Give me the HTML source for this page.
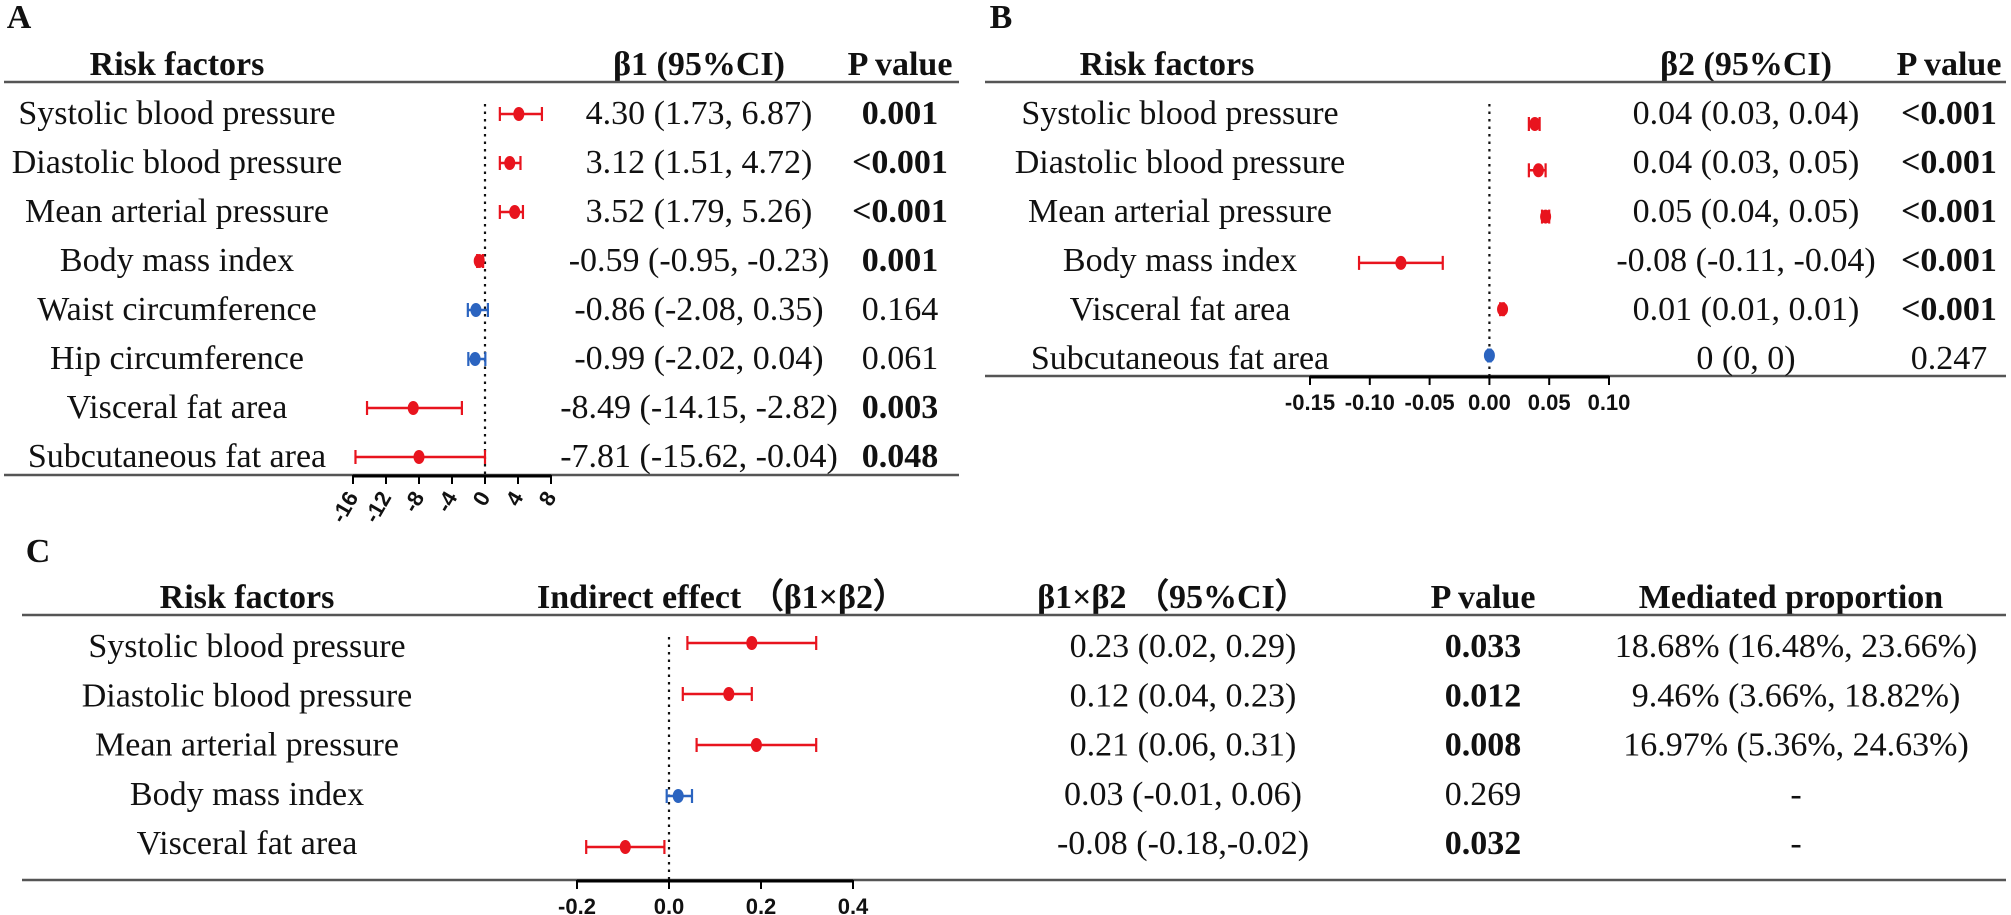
<!DOCTYPE html>
<html><head><meta charset="utf-8"><style>
html,body{margin:0;padding:0;background:#fff;}
svg{display:block;}
text{font-family:"Liberation Serif",serif;fill:#111;}
.h{font-weight:bold;font-size:34px;}
.r{font-size:34px;}
.b{font-weight:bold;}
.t{font-family:"Liberation Sans",sans-serif;font-weight:bold;font-size:22px;}
</style></head><body>
<svg id="chart" width="2011" height="915" viewBox="0 0 2011 915" xmlns="http://www.w3.org/2000/svg"></svg>
<script>
// Panel A data
const aLabels = ["Systolic blood pressure","Diastolic blood pressure","Mean arterial pressure","Body mass index","Waist circumference","Hip circumference","Visceral fat area","Subcutaneous fat area"];
const aEst = [4.1, 3.0, 3.6, -0.7, -1.1, -1.2, -8.7, -8.0];
const aLow = [1.8, 1.8, 1.8, -0.95, -2.08, -2.02, -14.3, -15.7];
const aHigh = [6.9, 4.3, 4.6, -0.23, 0.35, 0.04, -2.8, 0.0];
const aSig = [true, true, true, true, false, false, true, true];
const aCI = ["4.30 (1.73, 6.87)","3.12 (1.51, 4.72)","3.52 (1.79, 5.26)","-0.59 (-0.95, -0.23)","-0.86 (-2.08, 0.35)","-0.99 (-2.02, 0.04)","-8.49 (-14.15, -2.82)","-7.81 (-15.62, -0.04)"];
const aP = ["0.001","<0.001","<0.001","0.001","0.164","0.061","0.003","0.048"];
const aTicks = [-16,-12,-8,-4,0,4,8];
// Panel B data
const bLabels = ["Systolic blood pressure","Diastolic blood pressure","Mean arterial pressure","Body mass index","Visceral fat area","Subcutaneous fat area"];
const bEst = [0.038, 0.041, 0.047, -0.074, 0.011, 0.0];
const bLow = [0.033, 0.033, 0.044, -0.109, 0.009, -0.001];
const bHigh = [0.042, 0.047, 0.050, -0.039, 0.012, 0.001];
const bSig = [true, true, true, true, true, false];
const bCI = ["0.04 (0.03, 0.04)","0.04 (0.03, 0.05)","0.05 (0.04, 0.05)","-0.08 (-0.11, -0.04)","0.01 (0.01, 0.01)","0 (0, 0)"];
const bP = ["<0.001","<0.001","<0.001","<0.001","<0.001","0.247"];
const bTicks = [-0.15,-0.10,-0.05,0.00,0.05,0.10];
// Panel C data
const cLabels = ["Systolic blood pressure","Diastolic blood pressure","Mean arterial pressure","Body mass index","Visceral fat area"];
const cEst = [0.18, 0.13, 0.19, 0.02, -0.095];
const cLow = [0.04, 0.03, 0.06, -0.005, -0.18];
const cHigh = [0.32, 0.18, 0.32, 0.05, -0.01];
const cSig = [true, true, true, false, true];
const cCI = ["0.23 (0.02, 0.29)","0.12 (0.04, 0.23)","0.21 (0.06, 0.31)","0.03 (-0.01, 0.06)","-0.08 (-0.18,-0.02)"];
const cP = ["0.033","0.012","0.008","0.269","0.032"];
const cPBold = [true, true, true, false, true];
const cMed = ["18.68% (16.48%, 23.66%)","9.46% (3.66%, 18.82%)","16.97% (5.36%, 24.63%)","-","-"];
const cTicks = [-0.2,0.0,0.2,0.4];

const svg = document.getElementById('chart');
const NS = "http://www.w3.org/2000/svg";
const RED = "#e8141e", BLUE = "#2b64c0";
function mk(tag, attrs, txt){
  const e = document.createElementNS(NS, tag);
  for (const k in attrs) e.setAttribute(k, attrs[k]);
  if (txt !== undefined) e.textContent = txt;
  svg.appendChild(e);
  return e;
}
function txt(x, y, s, cls, anchor){
  return mk('text', {x:x, y:y, class:cls, 'text-anchor':anchor||'middle'}, s);
}
function scale(v0, v1, p0, p1){ return v => p0 + (v - v0) * (p1 - p0) / (v1 - v0); }

function panel(cfg){
  const x = scale(cfg.d0, cfg.d1, cfg.p0, cfg.p1);
  let e = mk('line', {x1:cfg.rx0, x2:cfg.rx1, y1:cfg.top, y2:cfg.top, stroke:'#555', 'stroke-width':2.5});
  
  
  e = mk('line', {x1:cfg.rx0, x2:cfg.rx1, y1:cfg.bot, y2:cfg.bot, stroke:'#555', 'stroke-width':2.5});
  
  
  e = mk('line', {x1:x(0), x2:x(0), y1:cfg.top + 22, y2:cfg.bot, stroke:'#111', 'stroke-width':2.2, 'stroke-dasharray':'2.5,5'});
  
  
  e = mk('line', {x1:x(cfg.ticks[0]), x2:x(cfg.ticks[cfg.ticks.length-1]), y1:cfg.bot+1, y2:cfg.bot+1, stroke:'#000', 'stroke-width':3});
  
  
  cfg.ticks.forEach((t, i) => {
    const tx = x(t);
    const tk = mk('line', {x1:tx, x2:tx, y1:cfg.bot, y2:cfg.bot + 9, stroke:'#000', 'stroke-width':2});
    
    
    let lab;
    if (cfg.rot) {
      lab = mk('text', {x:tx + 6, y:cfg.bot + 22, class:'t', 'text-anchor':'end', transform:'rotate(-60 ' + (tx + 6) + ' ' + (cfg.bot + 22) + ')'}, String(t));
    } else {
      lab = mk('text', {x:tx, y:cfg.bot + 34, class:'t', 'text-anchor':'middle'}, t.toFixed(cfg.dec));
    }
    
    
  });
  cfg.labels.forEach((l, i) => {
    const ty = cfg.textY0 + i * cfg.step;
    const my = cfg.markY0 + i * cfg.mstep;
    const col = cfg.sig[i] ? RED : BLUE;
    let t = txt(cfg.labelX, ty, l, 'r');
    
    
    const g = mk('line', {x1:x(cfg.low[i]), x2:x(cfg.high[i]), y1:my, y2:my, stroke:col, 'stroke-width':2.5});
    
    
    [cfg.low[i], cfg.high[i]].forEach(v => {
      const c = mk('line', {x1:x(v), x2:x(v), y1:my - 7, y2:my + 7, stroke:col, 'stroke-width':2.2});
      
      
    });
    const p = mk('ellipse', {cx:x(cfg.est[i]), cy:my, rx:5.5, ry:7, fill:col});
    
    
    t = txt(cfg.ciX, ty, cfg.ci[i], 'r');
    
    
    t = txt(cfg.pX, ty, cfg.p[i], cfg.pBold[i] ? 'r b' : 'r');
    
    
    if (cfg.med) {
      t = txt(cfg.medX, ty, cfg.med[i], 'r');
      
      
    }
  });
}

let h;
h = txt(19, 28, 'A', 'h', 'middle');  
h = txt(1001, 28, 'B', 'h', 'middle');  
h = txt(38, 562, 'C', 'h', 'middle');  

h = txt(177, 75, 'Risk factors', 'h');  
h = txt(699, 75, 'β1 (95%CI)', 'h');  
h = txt(900, 75, 'P value', 'h');  

h = txt(1167, 75, 'Risk factors', 'h');  
h = txt(1746, 75, 'β2 (95%CI)', 'h');  
h = txt(1949, 75, 'P value', 'h');  

h = txt(247, 608, 'Risk factors', 'h');  
h = txt(722, 608, 'Indirect effect （β1×β2）', 'h');  
h = txt(1173, 608, 'β1×β2 （95%CI）', 'h');  
h = txt(1483, 608, 'P value', 'h');  
h = txt(1791, 608, 'Mediated proportion', 'h');  

panel({id:'a', d0:-16, d1:8, p0:353, p1:551, ticks:aTicks, rot:true, dec:0,
  rx0:4, rx1:959, top:82, bot:475,
  labels:aLabels, est:aEst, low:aLow, high:aHigh, sig:aSig, ci:aCI, p:aP, pBold:aSig,
  textY0:124, step:49, markY0:114, mstep:49, labelX:177, ciX:699, pX:900});

panel({id:'b', d0:-0.15, d1:0.10, p0:1310, p1:1609, ticks:bTicks, rot:false, dec:2,
  rx0:985, rx1:2006, top:82, bot:376,
  labels:bLabels, est:bEst, low:bLow, high:bHigh, sig:bSig, ci:bCI, p:bP, pBold:bSig,
  textY0:124, step:49, markY0:124, mstep:46.3, labelX:1180, ciX:1746, pX:1949});

panel({id:'c', d0:-0.2, d1:0.4, p0:577, p1:853, ticks:cTicks, rot:false, dec:1,
  rx0:22, rx1:2006, top:615, bot:880,
  labels:cLabels, est:cEst, low:cLow, high:cHigh, sig:cSig, ci:cCI, p:cP, pBold:cPBold, med:cMed,
  textY0:657, step:49.3, markY0:643, mstep:51, labelX:247, ciX:1183, pX:1483, medX:1796});
</script>
</body></html>
